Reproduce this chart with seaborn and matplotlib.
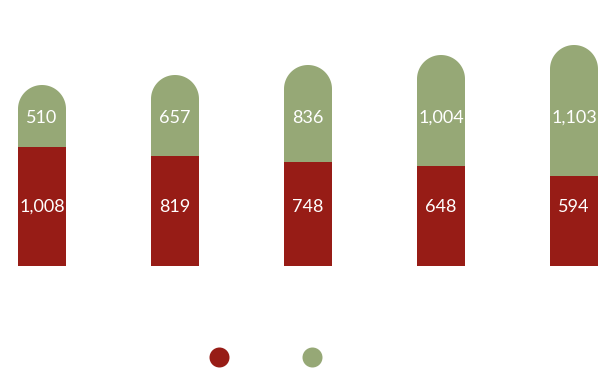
import matplotlib
matplotlib.use("Agg")
import matplotlib.pyplot as plt
from matplotlib.path import Path
from matplotlib.patches import PathPatch
from matplotlib.lines import Line2D
import seaborn as sns
import pandas as pd
import numpy as np

# ---- data ----
categories = ["1", "2", "3", "4", "5"]
red_labels = ["1,008", "819", "748", "648", "594"]
green_labels = ["510", "657", "836", "1,004", "1,103"]
# plotted segment heights as they appear in the picture
red_heights = [119, 110, 104, 100, 90]
green_heights = [62, 81, 97, 111, 131]

RED = "#971C16"
GREEN = "#96A876"

sns.set_theme(style="white")
plt.rcParams["font.family"] = ["Lato", "DejaVu Sans"]

df = pd.DataFrame({
    "category": categories,
    "red": red_heights,
    "total": [r + g for r, g in zip(red_heights, green_heights)],
})

fig = plt.figure(figsize=(6.14, 3.70), dpi=100)
ax = fig.add_axes([0, 0, 1, 1])

px_per_cat = 133.0
bar_w = 48.0 / px_per_cat

sns.barplot(data=df, x="category", y="total", color=GREEN, saturation=1,
            width=bar_w, ax=ax, linewidth=0)
n_green = len(ax.patches)
sns.barplot(data=df, x="category", y="red", color=RED, saturation=1,
            width=bar_w, ax=ax, linewidth=0)

xmin = -42.0 / px_per_cat
ax.set_xlim(xmin, xmin + 614.0 / px_per_cat)
ax.set_ylim(-104, 266)

# round the tops of the green (total) bars with a semicircular cap
t = np.linspace(0, np.pi, 60)
for p in ax.patches[:n_green]:
    x0, y0 = p.get_x(), p.get_y()
    w, h = p.get_width(), p.get_height()
    rx = w / 2
    ry = 24.0  # pixels == y units
    cx = x0 + rx
    top = y0 + h
    arc_x = cx + rx * np.cos(t)
    arc_y = top - ry + ry * np.sin(t)
    verts = [(x0 + w, y0)] + list(zip(arc_x, arc_y)) + [(x0, y0), (x0 + w, y0)]
    codes = [Path.MOVETO] + [Path.LINETO] * (len(verts) - 2) + [Path.CLOSEPOLY]
    clip = PathPatch(Path(verts, codes), transform=ax.transData)
    p.set_clip_path(clip)

for i in range(len(categories)):
    ax.text(i, 148, green_labels[i], ha="center", va="center",
            color="white", fontsize=13)
    ax.text(i, 59, red_labels[i], ha="center", va="center",
            color="white", fontsize=13)

ax.set_axis_off()

handles = [Line2D([], [], linestyle="none", marker="o", markersize=14.4,
                  markerfacecolor=c, markeredgewidth=0) for c in (RED, GREEN)]
fig.legend(handles, ["", ""], loc="center", ncol=2, frameon=False,
           bbox_to_anchor=(268.5 / 614, 1 - 358 / 370), fontsize=10,
           handlelength=1, handletextpad=0.5, columnspacing=5.2)

fig.savefig("out.png", dpi=100)
